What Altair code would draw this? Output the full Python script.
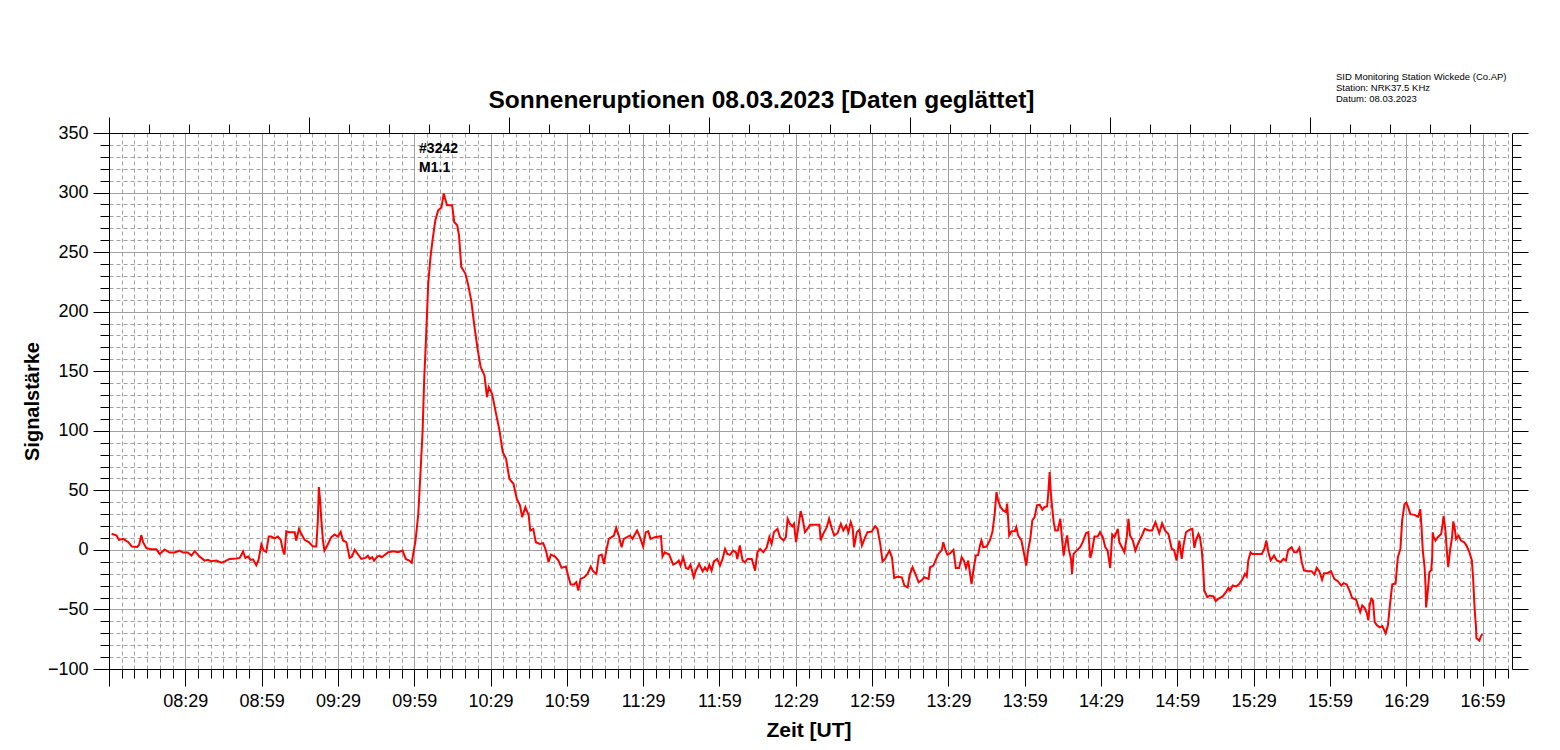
import altair as alt
import pandas as pd

# minutes after 07:59 UT
TIME_MIN = [
    1, 3, 3.9, 5.6, 7.6, 9, 11.1, 11.9, 12.7, 13.4, 14.7, 16.6, 18.6, 19.9, 21.9, 23.8, 25.8, 27.8, 29.1, 31,
    32.4, 33.7, 35.6, 37.6, 38.9, 40.2, 42.2, 44.2, 45.5, 47.4, 50.1, 51.4, 52.7, 53.6, 54.7, 55.6, 56.6, 57.9,
    58.8, 59.9, 60.8, 61.8, 62.8, 63.8, 65.1, 66.4, 67.5, 68.4, 69, 69.7, 71, 73, 73.6, 74.7, 75.6, 76.9, 78.5,
    80.2, 81.5, 82.1, 82.5, 83, 83.4, 84.1, 84.7, 85.8, 87.4, 88.7, 90, 91.1, 92, 93.3, 94.6, 95.5, 96.6, 97.9,
    99.2, 100.8, 101.8, 102.5, 103.5, 104.2, 105.5, 106.4,
    107.2, 109.8, 111.8, 113.7, 115.4, 116.7, 118, 119, 119.6, 120.5, 121.6, 122.5, 123.3, 123.9, 124.6, 125.5,
    126.4, 127.2, 128.3, 129.4, 130.7, 131.6, 132.4, 132.9, 134.9, 135.7, 136.9, 137.6, 138.5, 140.1, 141.1,
    142.4, 143.7, 145, 146.1, 147.6, 148.6, 149.3, 150.6, 151.9, 153.5, 154.8, 156.1, 157.4, 159, 160.3, 161.6,
    162.4, 163.7, 165, 165.6, 166.8, 167.8, 169.4, 170.7, 171.8, 172.8, 173.7, 175.4, 176.7, 177.9, 179.6,
    180.5, 181.5, 182.8, 183.7, 184.5, 185.4, 186.8, 188.1, 189.4, 190.3, 191.6, 192.6, 193.7, 194.6, 195.5,
    196.5, 198.5, 199.4, 200.4, 201.5, 202.4,
    204.8, 205.8, 207.6, 208.7, 210, 211, 212, 212.9, 214.6, 217, 217.6, 218.5, 220.2, 221.8, 222.9, 224, 224.7,
    225.7, 226.8, 227.7, 228.6, 229.9, 230.7, 232, 233.4, 234.3, 235.2, 236, 236.9, 237.8, 239.1, 240.2, 241.2,
    242.2, 243.1, 244.1, 245.4, 246.5, 247, 248, 249.1, 250, 251, 252.7, 254, 254.9, 256, 257.2, 258.6, 259.6,
    260.5, 261.4, 262.8, 263.8, 265.2, 266.1, 266.8, 267.7, 268.7, 269.3, 270.1, 271, 271.9, 272.7, 273.6,
    274.6, 275.6, 277.6, 279.3, 279.8, 280.8, 282.2, 283.1, 284.1, 285.1, 286.4, 287.7, 288.7, 289.8, 290.7,
    291.6, 292.4, 292.9, 294, 295, 296, 297.3, 298.2, 299.9, 301.2, 302.1, 303.2, 304.1, 305.1, 306.8,
    307.8, 308.7, 310, 311.7, 312.7, 314, 314.7, 315.9, 317, 318.3, 319.6, 320.5, 322.2, 322.8, 324.1, 325.2,
    326.1, 327.4, 328, 328.7, 329.6, 330.7, 332, 332.9, 334.2, 335.2, 336.1, 336.9, 337.8, 338.5, 339.1, 339.8,
    340.8, 341.7, 342.4, 343, 343.7, 345, 346.3, 347.3, 348.2, 348.9, 349.5, 350.5, 351.5, 352.6, 353.1, 353.9,
    354.8, 356.1, 356.7, 357.4, 358.7, 360, 360.6, 361.3, 362.2, 363, 363.9, 364.8, 365.9, 366.9, 367.8, 368.8,
    369.3, 369.8, 370.2, 370.7, 371.4, 372, 373, 374, 374.6, 375.3, 376, 376.7, 377.3, 378.2, 378.6, 379.2,
    380.4, 381.8, 382.8, 384.1, 385, 385.8, 386.4, 387.4, 388.7, 389.6, 390.7, 391.7, 392.6, 393.6, 394.4,
    395.3, 396.6, 397.2, 398.2, 399.2, 400.1, 400.8, 401.4, 402.5, 403.5, 404.8, 406.1, 407.2, 408.8, 410.1,
    411.4,
    412.9, 414, 415.2, 416.5, 417.8, 418.7, 419.7, 420.8, 421.7, 422.4, 423.4, 424.7, 425.9, 426.7, 427.3,
    428.3, 428.9, 429.6, 430.2, 430.6, 431.8, 432.8, 434.2, 435.1, 436.1, 437.8, 439.1, 440.1, 440.7, 441.8,
    443.1, 444.4, 445.7, 446.6, 447.3, 447.9, 448.8, 449.6, 451.2, 453.2, 454.2, 455, 455.8, 456.7, 458, 459.1,
    460.6, 461.7, 462.7, 463.6, 464.9, 465.9, 466.9, 468, 468.9, 469.8, 471.1, 472.8, 473.9, 474.8, 475.8,
    476.9, 477.7, 479, 480.4, 481.7, 483.1, 484.4, 485.4, 486.6, 487.7, 488.7, 490.3, 491, 491.9, 492.7, 493.6,
    494.5, 495.1, 495.6, 496.3, 496.9, 497.6, 498.5,
    499.6, 500.6, 501.9, 502.8, 503.5, 504.5, 505.8, 506.3, 506.7, 507.7, 508.4, 509.3, 510, 510.7, 511.6,
    513.3, 514.6, 515, 515.5, 516, 516.5, 517.2, 517.6, 517.8, 518.5, 519.1, 519.8, 520.2, 520.4, 520.8, 521.5,
    522.4, 523.7, 524.3, 524.7, 525.4, 526, 526.5, 527.2, 528, 528.5, 529, 529.6, 530.6, 531.5, 532.8, 533.7,
    534.8, 535.8, 536.3, 536.7, 537, 537.4, 537.6, 538.7, 539.3, 539.9,
]

SIGNAL = [
    13.5, 12, 8.4, 9.3, 6.5, 2.8, 2.5, 4.5, 12.4, 6.5, 1.4, 0.6, 0.6, -3.4, 0.3, -2.2, -2.2, -0.6, -2.2, -2.2,
    -4.8, -1.1, -5.6, -9, -8.4, -9.6, -9, -10.7, -9.6, -7.6, -7.3, -6.7, -1.4, -6.7, -5.6, -8.4, -7.9, -12.9,
    -8.4, 4.5, -0.6, -1.7, 11.2, 11.2, 9.6, 11.2, 8.4, -0.6, -3.9, 15.7, 14.9, 14.9, 7.9, 17.7, 13.5, 8.4, 6.5,
    2.8, 2.8, 24.7, 52.8, 41.6, 27.5, 7.9, -0.6, 3.7, 10.7, 12.9, 11.2, 15.2, 7.9, 6.5, -6.7, -5.6, 0, -3.9,
    -7.6, -6.7, -5, -7.6, -6.2, -9, -5.6, -4.8,
    -6.2, -2, -1.1, -2, -0.6, -7.6, -9, -10.9, -3.4, 7.8, 30.3, 66.7, 100.3, 142.3, 175.9, 223.5,
    245.9, 260, 276.8, 285, 287.4, 299.2, 293, 289.4, 289.4, 275.3, 272.5, 264, 237.5, 232, 223.5,
    209.5, 187, 167.5, 153.5, 146.5, 128.3, 136.7, 131.1, 117.1, 100.3, 82.1, 76.5, 59.7, 55.5, 42.9, 37.3,
    27.5, 35.9, 28.9, 16.2, 17.6, 6.4, 5, 5.6, -0.6, -10.4, -3.9, -5.6, -9, -15.1, -14,
    -21.6, -29.1, -29.1, -27.2, -34.2, -24.4, -23, -20.2, -14, -17.9, -20.2, -4.8, -3.9, -11.8, -0.6,
    9.2, 12, 18.5, 12, 2.2, 9.2,
    12.1, 9.3, 16.3, 10.7, 2.8, 14.9, 15.7, 9.3, 10.7, 11.5, -5.6, -2, -3.9, -12.4, -11.2, -9, -13.2,
    -6.2, -15.2, -16, -12.4, -23, -17.4, -11.8, -18, -14.6, -17.4, -12.4, -17.4, -9.6, -7.6, -13.2, -7.6,
    0.8, -3.4, -4.2, -0.6, -2, -7.6, 3.7, -9, -10.4, -7.6, -7.6, -17.4, -2, 0.8, -2, 2.2, 10.7,
    5, 14.9, 17.7, 10.7, 7.9, 10.7, 26.1, 21.9, 19.7, 21.9, 6.5, 19.1, 32.6, 26.1, 14.9,
    17.7, 21.1, 21.1, 21.1, 7.9, 13.5, 19.1, 26.1, 18.5, 12.1, 14, 21.9, 16.3, 20.5, 14.9,
    23.3, 17.7, 2.2, 14.9, 16.9, 3.7, 10.7, 14.9, 15.4, 19.9, 17.7, 5, -9.6, -7.6, -0.6,
    -6.2, -23.6, -22.5, -23, -30, -31.5, -21.6, -14.6, -20.2, -27.2, -25.3, -23, -24.4, -14.6, -13.2, -7.6,
    -3.4, 0, 6.5, 0.8, -3.9, -2.8, 0, -15.2, -15.2, -6.2, -9, -15.2, -9, -20.2, -28.7, -17.4,
    -4.8, -4.2, 3.7, 7.9, 2.2, 2.8, 7.9, 14.9, 30.3, 48.6, 41.6, 36, 33.1, 31.7, 38.8, 12.1,
    15.7, 15.7, 19.1, 12.1, 7.9, -6.2, -13.2, -0.6, 9.3, 24.7, 27.5, 37.4, 37.9, 33.7, 36, 36.5,
    48.6, 65.4, 50, 37.4, 23.3, 16.3, 16.3, 26.1, 10.7, -4.8, 5, 12.1, 0.8, -7.6, -20.2, -3.4,
    -0.6, 2.2, 6.5, 14, 14.9, -6.7, -2, 11.2, 11.2, 14.9, 10.7, 2.2, -0.6, -15.2, 12.9,
    10.7, 17.7, 6.5, 2.2, -2, 10.7, 26.1, 12.1, 7.9, -0.6, 6.5, 12.1, 17.7, 16.3, 16.3,
    23.3,
    14, 22.3, 16.2, 13.4, 0.8, 0, -8.9, 7.8, -7.5, 3.6, 14.8, 16.8, 17.6, 1.7, 7.8,
    13.4, 10.6, 0, -17.3, -34.1, -39.7, -38.3, -39.1, -43, -41.1, -39.1, -35.5, -31.8, -34.1, -29.9,
    -30.7, -28.5, -24.3, -20.1, -22.3, -8.9, -2, -3.4, -3.4, -3.4, 0.8, 7.8, -2, -8.9, -4.7, -8.9,
    -10.3, -7.5, -8.9, 0, 2.2, -2, -2, 1.7, -10.3, -17.3, -17.9, -17.9, -20.7, -15.1, -17.9,
    -25.1, -19.6, -19.6, -17.9, -24.3, -26.3, -29.9, -27.9, -29, -34.1, -40.2, -41.9, -46.6, -52.2, -46.6, -48.6,
    -53.1, -59.2, -46.6, -41.1, -42.5, -60.6, -63.4,
    -65, -63.9, -70, -63.1, -47.8, -28.9, -28.3, -15.8, -6.1, 0.8, 25, 38.3, 39.7, 36.1, 30,
    29.4, 27.8, 30, 34.2, 18.9, -0.6, -14.4, -31.1, -48.3, -33.9, -18.6, -17.2, -6.1, 14.7, 10.6, 7.8,
    10.6, 13.3, 21.7, 28.6, 16.1, -1.9, -14.4, -0.6, 10.6, 23.9, 18.9, 9.2, 11.9, 7.8, 6.4, 3.6,
    -1.9, -8.9, -24.2, -42.2, -53.3, -63.9, -74.2, -76.1, -72.8, -70.6,
]

X_TICK_MIN = [30, 60, 90, 120, 150, 180, 210, 240, 270, 300, 330, 360, 390, 420, 450, 480, 510, 540]
X_TICK_LABELS = ["08:29", "08:59", "09:29", "09:59", "10:29", "10:59", "11:29", "11:59", "12:29",
                 "12:59", "13:29", "13:59", "14:29", "14:59", "15:29", "15:59", "16:29", "16:59"]

ANNOT_TEXT = ["#3242", "M1.1"]
ANNOT_T = [121.9, 121.9]
ANNOT_V = [336.5, 320.5]

NOTE_LINES = ["SID Monitoring Station Wickede (Co.AP)", "Station: NRK37.5 KHz", "Datum: 08.03.2023"]
TITLE = "Sonneneruptionen 08.03.2023 [Daten geglättet]"

FONT = "Liberation Sans"
GRID = "#a0a0a0"

df = pd.DataFrame({"t": TIME_MIN, "v": SIGNAL})
annot_df = pd.DataFrame({"t": ANNOT_T, "v": ANNOT_V, "label": ANNOT_TEXT})

label_expr = " : ".join(f"datum.value == {m} ? '{lab}'" for m, lab in zip(X_TICK_MIN, X_TICK_LABELS)) + " : ''"

x_scale = alt.Scale(domain=[0, 550], nice=False, zero=False)
y_scale = alt.Scale(domain=[-100, 350], nice=False, zero=False)

major_x = "datum.value % 30 == 0"
major_y = "datum.value % 50 == 0"

x_axis = alt.Axis(
    orient="bottom", values=list(range(0, 551, 5)), labelExpr=label_expr,
    labelOverlap=False, labelFlush=False, labelFont=FONT, labelFontSize=18, labelColor="black",
    labelPadding=6,
    tickSize={"condition": {"test": major_x, "value": 17}, "value": 9},
    tickColor="black", tickWidth=1, domainColor="black", domainWidth=1,
    grid=True, gridColor=GRID, gridWidth=1,
    gridDash={"condition": {"test": major_x, "value": []}, "value": [4, 3]},
    title="Zeit [UT]", titleFont=FONT, titleFontSize=21, titleFontWeight="bold", titleColor="black",
    titleY=67, titleBaseline="alphabetic",
)

y_axis = alt.Axis(
    orient="left", values=list(range(-100, 351, 10)),
    labelExpr="datum.value % 50 == 0 ? datum.label : ''",
    labelOverlap=False, labelFlush=False, labelFont=FONT, labelFontSize=18, labelColor="black",
    labelPadding=5,
    tickSize={"condition": {"test": major_y, "value": 16}, "value": 9},
    tickColor="black", tickWidth=1, domainColor="black", domainWidth=1,
    grid=True, gridColor=GRID, gridWidth=1,
    gridDash={"condition": {"test": major_y, "value": []}, "value": [4, 3]},
    title="Signalstärke", titleFont=FONT, titleFontSize=20, titleFontWeight="bold", titleColor="black",
    titleX=-77, titleY=268, titleAngle=270, titleAlign="center", titleBaseline="middle",
)

top_axis = alt.Axis(
    orient="top", values=list(range(0, 35)), labels=False, grid=False, title=None,
    tickSize={"condition": {"test": "datum.value % 5 == 0", "value": 16}, "value": 9},
    tickColor="black", tickWidth=1, domainColor="black", domainWidth=1,
)

right_axis = alt.Axis(
    orient="right", offset=4, values=list(range(-100, 351, 10)), labels=False, grid=False, title=None,
    tickSize={"condition": {"test": major_y, "value": 16}, "value": 9},
    tickColor="black", tickWidth=1, domainColor="black", domainWidth=1,
)

line = alt.Chart(df).mark_line(color="#ff0000", strokeWidth=2).encode(
    x=alt.X("t:Q", scale=x_scale, axis=x_axis),
    y=alt.Y("v:Q", scale=y_scale, axis=y_axis),
)

annot = alt.Chart(annot_df).mark_text(
    align="left", baseline="middle", font=FONT, fontSize=14, fontWeight="bold", color="black"
).encode(
    x=alt.X("t:Q", scale=x_scale, axis=None),
    y=alt.Y("v:Q", scale=y_scale, axis=None),
    text="label:N",
)

frame = alt.Chart(df).mark_point(opacity=0).encode(
    x=alt.XDatum(0, type="quantitative", scale=alt.Scale(domain=[0, 34.95], nice=False, zero=False), axis=top_axis),
    y=alt.Y("v:Q", scale=y_scale, axis=right_axis),
)

note = alt.Chart(alt.Data(values=[{"note": "\n".join(NOTE_LINES)}])).mark_text(
    align="left", baseline="top", lineBreak="\n", lineHeight=11, font=FONT, fontSize=9.5, color="black"
).encode(
    x=alt.value(1227), y=alt.value(-61), text="note:N",
)

chart = alt.layer(line, annot, frame, note).resolve_scale(
    x="independent"
).resolve_axis(
    x="independent", y="independent"
).properties(
    width=1399, height=536,
    title=alt.TitleParams(TITLE, font=FONT, fontSize=24.5, fontWeight="bold", color="black",
                          anchor="middle", dx=-47, offset=-60, baseline="alphabetic"),
    autosize=alt.AutoSizeParams(type="none"),
    padding={"left": 101, "top": 125, "right": 44, "bottom": 73},
).configure_view(stroke=None)

chart.save("out.html", embed_options={"renderer": "svg", "actions": False})
